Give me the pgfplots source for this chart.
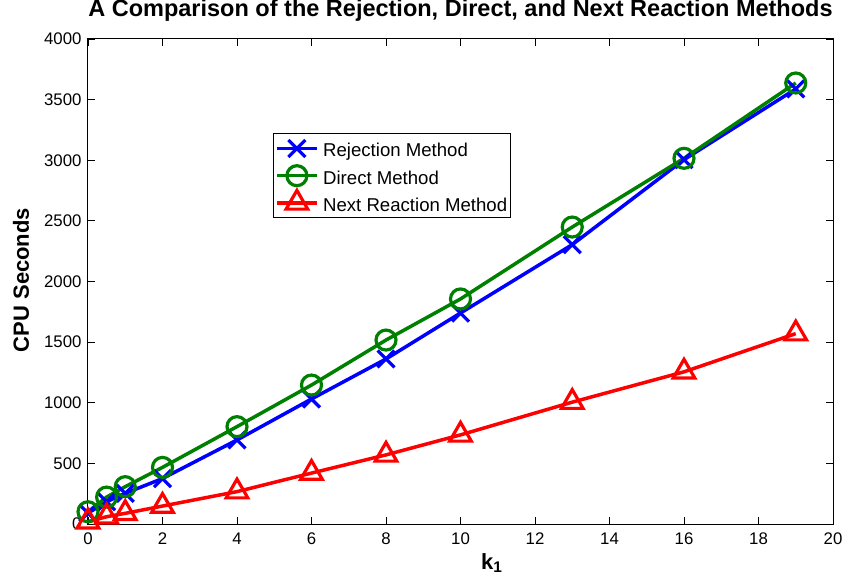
\documentclass[border=0pt]{standalone}
\usepackage{fontspec}
\setmainfont{Liberation Sans}
\usepackage{pgfplots}
\pgfplotsset{compat=1.18}

\definecolor{mblue}{RGB}{0,0,255}
\definecolor{mgreen}{RGB}{0,128,0}
\definecolor{mred}{RGB}{255,0,0}

\begin{document}
\begin{tikzpicture}
\begin{axis}[
    name=ax,
    width=745pt, height=485pt, scale only axis,
    xmin=0, xmax=20, ymin=0, ymax=4000,
    xtick={0,2,...,20}, ytick={0,500,...,4000},
    tick align=inside, major tick length=7pt,
    axis line style={line width=1pt, black},
    tick style={line width=0.8pt, black},
    /pgf/number format/assume math mode=true,
    /pgf/number format/set thousands separator={},
    ticklabel style={font=\fontsize{16.8}{18}\selectfont},
    xticklabel style={yshift=-5pt},
    yticklabel style={xshift=-3pt},
    title={\textbf{A Comparison of the Rejection, Direct, and Next Reaction Methods}},
    title style={font=\fontsize{23.5}{26}\selectfont, at={(axis description cs:0.5,1)}, anchor=base, yshift=16pt},
    xlabel={\textbf{k\textsubscript{1}}},
    xlabel style={font=\fontsize{22}{24}\selectfont, at={(axis description cs:0.542,-0.08)}, anchor=center},
    ylabel={\textbf{CPU Seconds}},
    ylabel style={font=\fontsize{22}{24}\selectfont, at={(axis description cs:-0.09,0.503)}, anchor=center},
    legend cell align=left,
    legend style={at={(axis description cs:0.248,0.806)}, anchor=north west,
        draw=black, line width=0.8pt, font=\fontsize{18.6}{21}\selectfont,
        inner xsep=2pt, inner ysep=2pt, row sep=1.2pt,
        nodes={inner sep=1.5pt, text height=20pt, text depth=3pt},
        /tikz/every odd column/.append style={column sep=3pt}},
    legend image code/.code={\draw[mark repeat=2, mark phase=2, #1] plot coordinates {(0pt,0pt) (20pt,0pt) (40pt,0pt)};},
]
\addplot[color=mblue, line width=3.5pt, mark=x, mark size=12pt, mark options={solid, line width=3.2pt}]
  coordinates {(0,90) (0.5,184) (1,253) (2,375) (4,693) (6,1031) (8,1361) (10,1740) (13,2304) (16,3005) (19,3588)};
\addplot[color=mgreen, line width=3.5pt, mark=o, mark size=10pt, mark options={solid, line width=3.2pt}]
  coordinates {(0,101) (0.5,222) (1,308) (2,467) (4,803) (6,1146) (8,1517) (10,1856) (13,2449) (16,3016) (19,3637)};
\addplot[color=mred, line width=3.5pt, mark=triangle, mark size=12.5pt, mark options={solid, line width=3.2pt}]
  coordinates {(0,19) (0.5,60) (1,88) (2,148) (4,267) (6,420) (8,570) (10,735) (13,1005) (16,1255) (19,1570)};
\addlegendentry{Rejection Method}
\addlegendentry{Direct Method}
\addlegendentry{Next Reaction Method}
\end{axis}
\pgfresetboundingbox
\path[use as bounding box] ([shift={(-88pt,-62pt)}]ax.south west) rectangle ([shift={(12pt,39pt)}]ax.north east);
\end{tikzpicture}
\end{document}
